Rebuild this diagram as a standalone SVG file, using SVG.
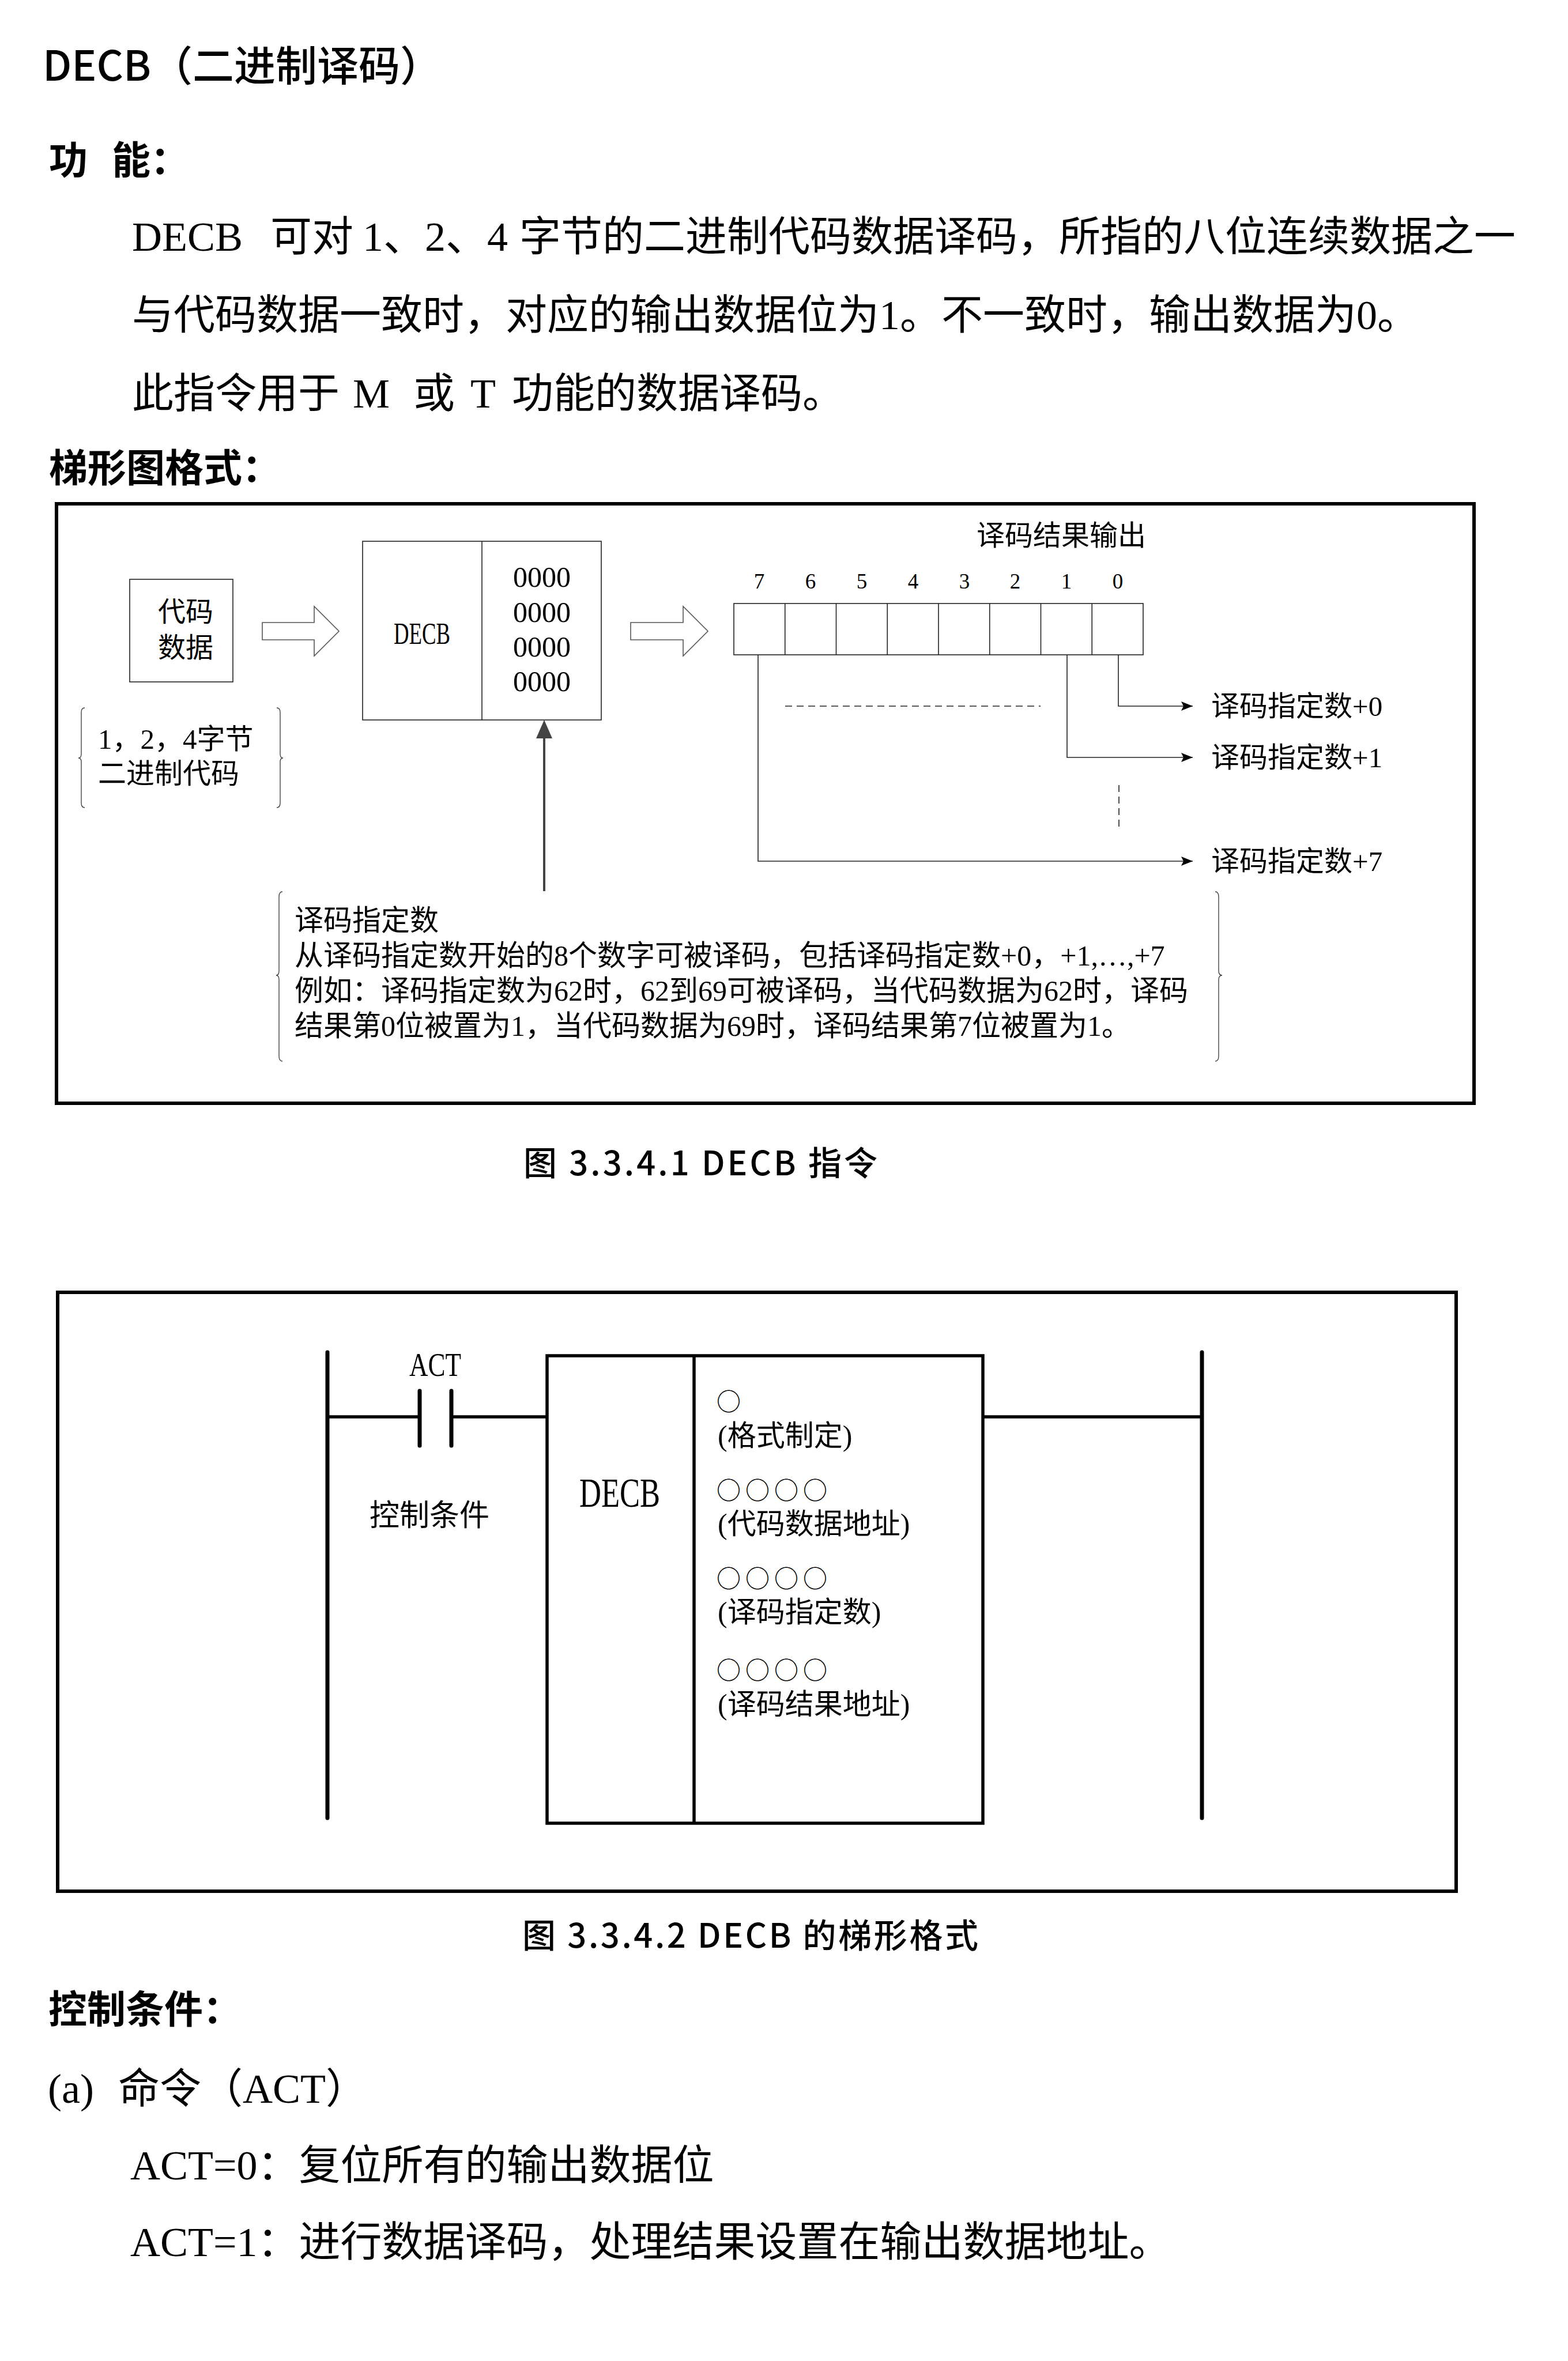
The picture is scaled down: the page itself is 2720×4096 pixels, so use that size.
<svg xmlns="http://www.w3.org/2000/svg" width="2720" height="4096" viewBox="0 0 2720 4096">
<style>
.t{font-family:"Liberation Serif","Noto Sans CJK SC",serif;fill:#000}
.h{font-family:"Noto Sans CJK SC",sans-serif;font-weight:700;fill:#000}
.hei{font-family:"Noto Sans CJK SC",sans-serif;font-weight:500;fill:#000}
.cir{font-family:"Noto Sans CJK SC",sans-serif;fill:#000;font-size:42px;letter-spacing:8px}
.thin{fill:none;stroke:#222;stroke-width:1.6}
.frame{fill:none;stroke:#000;stroke-width:6}
.thick{fill:none;stroke:#000;stroke-width:7;stroke-linecap:round}
.mid{fill:none;stroke:#000;stroke-width:5.5}
.dash{fill:none;stroke:#222;stroke-width:1.6;stroke-dasharray:12 8}
.hollow{fill:#fff;stroke:#555;stroke-width:1.6}
.brace{fill:none;stroke:#444;stroke-width:1.4}
</style>
<defs>
<marker id="ah" viewBox="0 0 20 16" refX="20" refY="8" markerWidth="20" markerHeight="16" markerUnits="userSpaceOnUse" orient="auto">
<path d="M0,0 L20,8 L0,16 L4,8 z" fill="#000"/>
</marker>
</defs>
<rect width="2720" height="4096" fill="#fff"/>

<g id="page-text">
<text class="hei" x="74" y="140" font-size="72">DECB（二进制译码）</text>
<text class="h" y="302" font-size="67"><tspan x="85">功</tspan><tspan x="194">能：</tspan></text>
<text class="t" y="435" font-size="72"><tspan x="229">DECB</tspan><tspan x="469">可对</tspan><tspan x="629">1、2、4</tspan><tspan x="901">字节的二进制代码数据译码，所指的八位连续数据之一</tspan></text>
<text class="t" x="229" y="571" font-size="72">与代码数据一致时，对应的输出数据位为1。不一致时，输出数据为0。</text>
<text class="t" y="707" font-size="72"><tspan x="229">此指令用于</tspan><tspan x="612">M</tspan><tspan x="717">或</tspan><tspan x="816">T</tspan><tspan x="888">功能的数据译码。</tspan></text>
<text class="h" x="85" y="836" font-size="67">梯形图格式：</text>
<text class="hei" x="908" y="2039" font-size="58" textLength="614" lengthAdjust="spacing">图 3.3.4.1 DECB 指令</text>
<text class="hei" x="906" y="3379" font-size="58" textLength="791" lengthAdjust="spacing">图 3.3.4.2 DECB 的梯形格式</text>
<text class="h" x="84" y="3510" font-size="67">控制条件：</text>
<text class="t" y="3648" font-size="72"><tspan x="83">(a)</tspan><tspan x="205">命令（ACT）</tspan></text>
<text class="t" x="226" y="3781" font-size="72">ACT=0：复位所有的输出数据位</text>
<text class="t" x="226" y="3914" font-size="72">ACT=1：进行数据译码，处理结果设置在输出数据地址。</text>
</g>

<g id="fig1-frame"><rect class="frame" x="98" y="874" width="2459" height="1040"/></g>

<g id="code-data">
<rect class="thin" x="225" y="1005" width="179" height="178"/>
<text class="t" x="274" y="1078" font-size="48">代码</text>
<text class="t" x="274" y="1140" font-size="48">数据</text>
</g>

<g id="code-note">
<path class="brace" d="M147,1228 Q141,1228 141,1236 L141,1308 Q141,1315 136,1315 Q141,1315 141,1322 L141,1393 Q141,1401 147,1401"/>
<path class="brace" d="M480,1228 Q486,1228 486,1236 L486,1308 Q486,1315 491,1315 Q486,1315 486,1322 L486,1393 Q486,1401 480,1401"/>
<text class="t" x="170" y="1299" font-size="49">1，2，4字节</text>
<text class="t" x="170" y="1359" font-size="49">二进制代码</text>
</g>

<g id="arrow-in"><polygon class="hollow" points="455,1080 545,1080 545,1052 588,1095 545,1138 545,1110 455,1110"/></g>

<g id="decb-box">
<rect class="thin" x="629" y="939" width="414" height="310"/>
<line class="thin" x1="836" y1="939" x2="836" y2="1249"/>
<text class="t" x="683" y="1117" font-size="52" textLength="98" lengthAdjust="spacingAndGlyphs">DECB</text>
<text class="t" x="890" y="1018" font-size="50">0000</text>
<text class="t" x="890" y="1079" font-size="50">0000</text>
<text class="t" x="890" y="1139" font-size="50">0000</text>
<text class="t" x="890" y="1199" font-size="50">0000</text>
</g>

<g id="arrow-out"><polygon class="hollow" points="1094,1080 1185,1080 1185,1052 1228,1095 1185,1138 1185,1110 1094,1110"/></g>

<g id="result-register">
<text class="t" x="1694" y="946" font-size="49">译码结果输出</text>
<rect class="thin" x="1273" y="1047" width="710" height="89"/>
<path class="thin" d="M1361.75,1047V1136M1450.5,1047V1136M1539.25,1047V1136M1628,1047V1136M1716.75,1047V1136M1805.5,1047V1136M1894.25,1047V1136"/>
<g class="t" font-size="37" text-anchor="middle">
<text x="1317" y="1021">7</text><text x="1406" y="1021">6</text><text x="1495" y="1021">5</text><text x="1584" y="1021">4</text><text x="1673" y="1021">3</text><text x="1761" y="1021">2</text><text x="1850" y="1021">1</text><text x="1939" y="1021">0</text>
</g>
</g>

<g id="output-labels">
<text class="t" x="2101" y="1242" font-size="49">译码指定数+0</text>
<text class="t" x="2101" y="1331" font-size="49">译码指定数+1</text>
<text class="t" x="2101" y="1511" font-size="49">译码指定数+7</text>
</g>

<g id="spec-note">
<path class="brace" d="M490,1547 Q484,1547 484,1556 L484,1684 Q484,1692 479,1692 Q484,1692 484,1700 L484,1832 Q484,1841 490,1841"/>
<path class="brace" d="M2108,1547 Q2114,1547 2114,1556 L2114,1684 Q2114,1692 2120,1692 Q2114,1692 2114,1700 L2114,1832 Q2114,1841 2108,1841"/>
<text class="t" x="511" y="1614" font-size="50">译码指定数</text>
<text class="t" x="511" y="1675" font-size="50">从译码指定数开始的8个数字可被译码，包括译码指定数+0，+1,…,+7</text>
<text class="t" x="511" y="1736" font-size="50">例如：译码指定数为62时，62到69可被译码，当代码数据为62时，译码</text>
<text class="t" x="511" y="1797" font-size="50">结果第0位被置为1，当代码数据为69时，译码结果第7位被置为1。</text>
</g>

<g id="connectors">
<polyline class="thin" points="1940,1136 1940,1225 2069,1225" marker-end="url(#ah)"/>
<polyline class="thin" points="1851,1136 1851,1314 2069,1314" marker-end="url(#ah)"/>
<polyline class="thin" points="1315,1136 1315,1494 2069,1494" marker-end="url(#ah)"/>
<line class="dash" x1="1362" y1="1225" x2="1805" y2="1225"/>
<line class="dash" x1="1941" y1="1362" x2="1941" y2="1442"/>
<line x1="944" y1="1546" x2="944" y2="1275" stroke="#444" stroke-width="4"/>
<polygon points="944,1249 930,1281 958,1281" fill="#444"/>
</g>

<g id="fig2-frame"><rect class="frame" x="100" y="2242" width="2426" height="1039"/></g>

<g id="ladder-rails">
<line class="thick" x1="568" y1="2346" x2="568" y2="3154"/>
<line class="thick" x1="2085" y1="2346" x2="2085" y2="3154"/>
</g>

<g id="act-contact">
<line class="mid" x1="568" y1="2458" x2="728" y2="2458"/>
<line class="thick" x1="728" y1="2413" x2="728" y2="2508"/>
<line class="thick" x1="783" y1="2413" x2="783" y2="2508"/>
<line class="mid" x1="783" y1="2458" x2="949" y2="2458"/>
<text class="t" x="710" y="2387" font-size="58" textLength="90" lengthAdjust="spacingAndGlyphs">ACT</text>
<text class="t" x="641" y="2647" font-size="52">控制条件</text>
</g>

<g id="decb-function">
<rect class="mid" x="949" y="2352" width="756" height="811"/>
<line class="mid" x1="1204" y1="2352" x2="1204" y2="3163"/>
<line class="mid" x1="1705" y1="2458" x2="2085" y2="2458"/>
<text class="t" x="1005" y="2614" font-size="72" textLength="140" lengthAdjust="spacingAndGlyphs">DECB</text>
<text class="cir" x="1243" y="2447">○</text>
<text class="t" x="1245" y="2508" font-size="50">(格式制定)</text>
<text class="cir" x="1243" y="2601">○○○○</text>
<text class="t" x="1245" y="2661" font-size="50">(代码数据地址)</text>
<text class="cir" x="1243" y="2754">○○○○</text>
<text class="t" x="1245" y="2814" font-size="50">(译码指定数)</text>
<text class="cir" x="1243" y="2913">○○○○</text>
<text class="t" x="1245" y="2974" font-size="50">(译码结果地址)</text>
</g>
</svg>
